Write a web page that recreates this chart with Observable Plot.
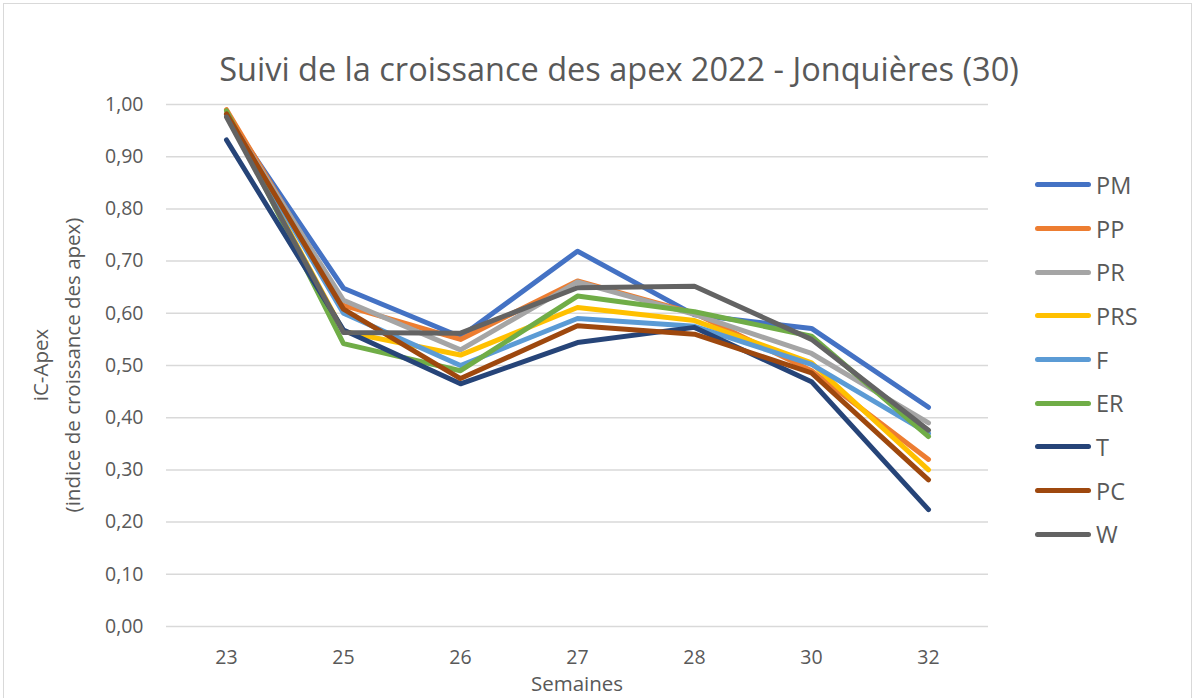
<!DOCTYPE html>
<html>
<head>
<meta charset="utf-8">
<script src="https://cdn.jsdelivr.net/npm/d3@7"></script>
<script src="https://cdn.jsdelivr.net/npm/@observablehq/plot@0.6"></script>
<style>
  html, body { margin: 0; padding: 0; background: #fff; }
  #chart { position: relative; width: 1197px; height: 698px; font-family: "Open Sans", sans-serif; color: #595959; overflow: hidden; }
  #frame { position: absolute; left: 3px; top: 3px; width: 1189px; height: 700px; border: 1.5px solid #d9d9d9; box-sizing: border-box; }
  #title { position: absolute; left: 0; width: 1238px; top: 47px; text-align: center; font-size: 32.5px; line-height: 44px; }
  .ylab { position: absolute; white-space: nowrap; font-size: 20.5px; line-height: 26px; transform: translate(-50%, -50%) rotate(-90deg); }
  #xlab { position: absolute; left: 577px; top: 683px; transform: translate(-50%, -50%); font-size: 20.5px; }
  #legend { position: absolute; left: 1035px; top: 163px; }
  .item { height: 43.7px; display: flex; align-items: center; font-size: 23.5px; }
  .swatch { width: 56px; height: 5px; border-radius: 3px; margin-right: 5px; }
  #plot { position: absolute; left: 0; top: 0; }
</style>
</head>
<body>
<div id="chart">
  <div id="frame"></div>
  <div id="plot"></div>
  <div id="title">Suivi de la croissance des apex 2022 - Jonquières (30)</div>
  <div class="ylab" style="left:40px; top:365px;">iC-Apex</div>
  <div class="ylab" style="left:72px; top:365px;">(indice de croissance des apex)</div>
  <div id="xlab">Semaines</div>
  <div id="legend"></div>
</div>
<script>
const weeks = ["23", "25", "26", "27", "28", "30", "32"];
const seriesNames = ["PM", "PP", "PR", "PRS", "F", "ER", "T", "PC", "W"];
const colors = ["#4472C4", "#ED7D31", "#A5A5A5", "#FFC000", "#5B9BD5", "#70AD47", "#264478", "#9E480E", "#636363"];
const PM  = [0.980, 0.648, 0.555, 0.719, 0.597, 0.571, 0.420];
const PP  = [0.990, 0.615, 0.550, 0.662, 0.600, 0.490, 0.320];
const PR  = [0.980, 0.625, 0.530, 0.660, 0.598, 0.523, 0.390];
const PRS = [0.980, 0.565, 0.520, 0.611, 0.586, 0.505, 0.300];
const F   = [0.980, 0.600, 0.500, 0.590, 0.575, 0.502, 0.370];
const ER  = [0.988, 0.542, 0.490, 0.633, 0.603, 0.556, 0.364];
const T   = [0.932, 0.568, 0.465, 0.544, 0.573, 0.469, 0.224];
const PC  = [0.982, 0.608, 0.475, 0.576, 0.560, 0.486, 0.281];
const W   = [0.976, 0.563, 0.562, 0.649, 0.652, 0.550, 0.376];
const values = [PM, PP, PR, PRS, F, ER, T, PC, W];
const yTicks = [0, 0.1, 0.2, 0.3, 0.4, 0.5, 0.6, 0.7, 0.8, 0.9, 1.0];

const data = [];
seriesNames.forEach((s, i) => weeks.forEach((w, j) => data.push({series: s, week: w, value: values[i][j]})));

const fmt = d => d.toFixed(2).replace(".", ",");

const plot = Plot.plot({
  width: 1197,
  height: 698,
  marginTop: 104,
  marginBottom: 72,
  marginLeft: 166,
  marginRight: 209,
  style: { fontFamily: "'Open Sans', sans-serif", fontSize: "19.5px", color: "#595959", background: "transparent" },
  x: { type: "point", domain: weeks, padding: 0.5, label: null },
  y: { domain: [0, 1], label: null },
  color: { domain: seriesNames, range: colors },
  marks: [
    Plot.ruleY(yTicks, { stroke: "#d9d9d9", strokeWidth: 1.5, strokeOpacity: 1 }),
    Plot.axisY({ ticks: yTicks, tickFormat: fmt, tickSize: 0, tickPadding: 23, fontSize: 19.5, fill: "#595959", label: null }),
    Plot.axisX({ tickSize: 0, tickPadding: 24, fontSize: 19.5, fill: "#595959", label: null }),
    Plot.line(data, { x: "week", y: "value", z: "series", stroke: "series", strokeWidth: 5, strokeLinecap: "round", strokeLinejoin: "round" })
  ]
});
document.getElementById("plot").appendChild(plot);

const legend = document.getElementById("legend");
seriesNames.forEach((s, i) => {
  const it = document.createElement("div");
  it.className = "item";
  it.innerHTML = `<div class="swatch" style="background:${colors[i]}"></div><span>${s}</span>`;
  legend.appendChild(it);
});
</script>
</body>
</html>
